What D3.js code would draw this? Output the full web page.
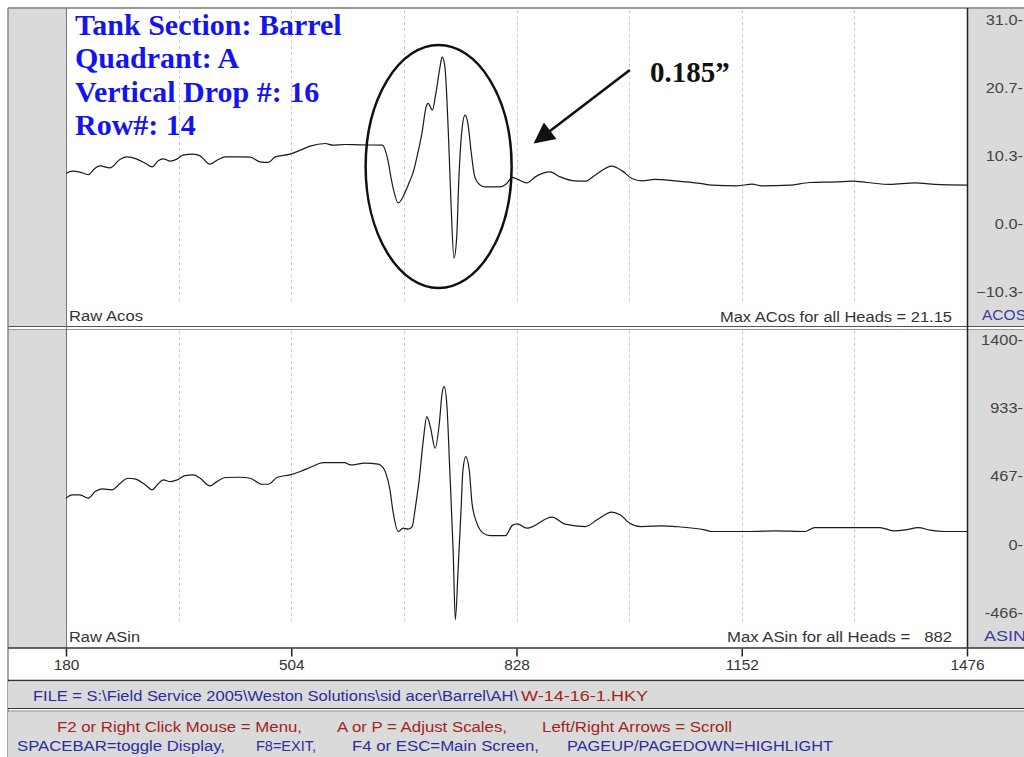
<!DOCTYPE html>
<html><head><meta charset="utf-8">
<script src="https://cdn.jsdelivr.net/npm/d3@7"></script>
<style>body{margin:0;background:#fff;} svg{display:block;}</style>
</head><body>
<svg id="c" width="1024" height="757"></svg>
<script>
// ---------- data ----------
const acosPos = [180,189,200,212,222,229,243,258,268,282,294,304,312,320,330,340,348,363,373,387,399,409,430,445,459,471,481,502,517,531,553,564,581,603,635,642,649,658,668,675,679,686,692,698,701,707,712,718,721,725,730,734,738,742,745,750,754,758,763,768,776,783,804,814,822,829,843,855,876,891,912,927,941,965,980,994,1009,1027,1056,1092,1109,1145,1167,1181,1221,1250,1289,1311,1332,1365,1401,1430,1476];
const acosVal = [7.7,8.05,7.9,7.52,8.5,8.85,8.55,9.87,10.22,9.87,9.26,8.7,9.57,9.91,9.57,9.91,10.48,10.63,10.37,9.11,9.82,10.22,10.22,10.17,9.46,9.37,10.22,10.63,11.24,11.84,12.25,12.0,12.1,12.04,12.0,10.22,6.23,3.23,4.9,6.68,7.74,10.78,13.82,17.81,18.33,17.31,19.85,23.88,25.4,23.88,13.82,2.63,-5.16,-1.93,6.68,14.77,16.55,15.34,10.78,7.18,5.92,5.66,5.66,6.18,7.09,6.83,6.27,7.18,7.94,7.18,6.57,6.53,7.44,8.81,8.09,6.94,6.57,6.79,6.57,6.18,5.92,5.82,6.07,5.82,5.92,6.33,6.42,6.53,6.33,6.03,6.27,6.03,5.92];
const asinPos = [180,189,200,212,222,232,246,258,269,279,294,304,312,320,330,340,351,363,373,387,397,409,430,445,462,471,484,502,517,534,550,567,581,589,610,629,632,640,646,650,658,665,672,678,682,688,694,699,704,711,717,721,724,728,732,737,740,744,748,751,755,760,764,771,780,790,812,822,829,843,879,898,927,944,965,977,991,1006,1037,1056,1099,1109,1164,1200,1243,1257,1315,1351,1370,1387,1406,1423,1444,1476];
const asinVal = [319,341,341,319,364,382,376,421,455,451,410,376,414,444,432,444,473,478,455,403,432,460,462,455,414,414,462,478,501,535,562,562,562,546,558,551,546,490,376,239,91,114,107,125,239,444,717,876,808,660,831,1036,1081,944,512,-57,-512,-171,216,512,603,512,285,148,80,63,63,133,143,114,189,141,125,171,223,205,148,125,130,125,102,91,91,96,91,118,118,118,96,102,118,100,91,91];
const xTicks = [180,504,828,1152,1476];
const gridTicks = [342,504,666,828,990,1152,1314];
const acosTicks = [31.0,20.7,10.3,0.0,-10.3];
const asinTicks = [1400,933,467,0,-466];
const infoLines = ["Tank Section: Barrel","Quadrant: A","Vertical Drop #: 16","Row#: 14"];
const calloutText = "0.185\u201D";
const highlight = {from: 611, to: 821, top: 27.2, bottom: -9.7};
const arrowFrom = {pos: 991, val: 23.4};
const arrowTo = {pos: 855, val: 12.45};
const acosMaxLabel = "Max ACos for all Heads = 21.15";
const asinMaxLabel = "Max ASin for all Heads =   882";
const fileBlue = "FILE = S:\\Field Service 2005\\Weston Solutions\\sid acer\\Barrel\\AH\\";
const fileRed = "W-14-16-1.HKY";

// ---------- layout ----------
const svg = d3.select("#c");
const L = 66, R = 967;
const topY0 = 8, topY1 = 327, botY0 = 329, botY1 = 648;
const GRAY = "#dadada";
const x = d3.scaleLinear().domain([180,1476]).range([L,R]);
const yA = d3.scaleLinear().domain([-10.3,31.0]).range([292,20]);
const yS = d3.scaleLinear().domain([-466,1400]).range([613,340]);
const SANS = "'Liberation Sans', Arial, sans-serif";
const SERIF = "'Liberation Serif', 'Times New Roman', serif";

svg.append("rect").attr("width",1024).attr("height",757).attr("fill","#fff");

// side strips
[[topY0,topY1],[botY0,botY1]].forEach(([a,b])=>{
  svg.append("rect").attr("x",8).attr("y",a).attr("width",L-8).attr("height",b-a).attr("fill",GRAY);
  svg.append("rect").attr("x",R).attr("y",a).attr("width",1024-R).attr("height",b-a).attr("fill",GRAY);
});

// grid
[[10,303],[331,625]].forEach(([a,b])=>{
  svg.append("g").selectAll("line").data(gridTicks).join("line")
    .attr("x1",d=>Math.round(x(d))+0.5).attr("x2",d=>Math.round(x(d))+0.5)
    .attr("y1",a).attr("y2",b)
    .attr("stroke","#cacaca").attr("stroke-width",1).attr("stroke-dasharray","3,3");
});

// frame lines
function hl(y,x1,x2,c,w){svg.append("line").attr("x1",x1).attr("x2",x2).attr("y1",y).attr("y2",y).attr("stroke",c).attr("stroke-width",w);}
function vl(xx,y1,y2,c,w){svg.append("line").attr("x1",xx).attr("x2",xx).attr("y1",y1).attr("y2",y2).attr("stroke",c).attr("stroke-width",w);}
hl(8,8,1024,"#9a9a9a",2);
hl(326.5,8,1024,"#555",1);
hl(329.5,8,1024,"#999",1);
vl(8,8,757,"#888",1.5);
vl(66.5,8,648,"#777",1);
vl(967.5,8,648,"#222",1.5);

// line traces
const lineA = d3.line().x(d=>x(d[0])).y(d=>yA(d[1])).curve(d3.curveMonotoneX);
const lineS = d3.line().x(d=>x(d[0])).y(d=>yS(d[1])).curve(d3.curveMonotoneX);
svg.append("path").attr("d",lineA(d3.zip(acosPos,acosVal))).attr("fill","none").attr("stroke","#1a1a1a").attr("stroke-width",1.2);
svg.append("path").attr("d",lineS(d3.zip(asinPos,asinVal))).attr("fill","none").attr("stroke","#1a1a1a").attr("stroke-width",1.2);

// right axes
function rightAxis(scale, ticks, fmt){
  const g = svg.append("g").attr("transform","translate(1023,0)")
    .call(d3.axisLeft(scale).tickValues(ticks).tickSize(0).tickPadding(0).tickFormat(fmt));
  g.select(".domain").remove();
  g.selectAll("text").attr("font-family",SANS).attr("font-size",14).attr("fill","#444")
    .each(function(){const w=this.getComputedTextLength(); d3.select(this).attr("textLength",w*1.17).attr("lengthAdjust","spacingAndGlyphs");});
}
rightAxis(yA, acosTicks, d=>d3.format(".1f")(d)+"-");
rightAxis(yS, asinTicks, d=>d+"-");

// x axis strip
hl(648,8,1024,"#333",1.5);
const gx = svg.append("g").attr("transform","translate(0,648.5)")
  .call(d3.axisBottom(x).tickValues(xTicks).tickSize(8).tickPadding(4).tickFormat(d3.format("d")));
gx.select(".domain").remove();
gx.selectAll(".tick line").attr("stroke","#222").attr("stroke-width",1.5);
gx.selectAll("text").attr("font-family",SANS).attr("font-size",14).attr("fill","#333")
  .each(function(){const w=this.getComputedTextLength(); d3.select(this).attr("textLength",w*1.1).attr("lengthAdjust","spacingAndGlyphs");});

// file bar & footer
hl(680.5,8,1024,"#333",1.5);
svg.append("rect").attr("x",8).attr("y",682).attr("width",1016).attr("height",26).attr("fill",GRAY);
hl(708.5,8,1024,"#333",1.2);
hl(711,8,1024,"#777",1);
svg.append("rect").attr("x",8).attr("y",712).attr("width",1016).attr("height",45).attr("fill",GRAY);

function txt(s,xx,y,opts){
  const t = svg.append("text").attr("x",xx).attr("y",y).text(s)
    .attr("font-family",opts.family||SANS).attr("font-size",opts.size||14)
    .attr("fill",opts.fill||"#333").style("white-space","pre");
  if(opts.weight) t.attr("font-weight",opts.weight);
  if(opts.anchor) t.attr("text-anchor",opts.anchor);
  if(opts.len) t.attr("textLength",opts.len).attr("lengthAdjust","spacingAndGlyphs");
  return t;
}
const BLUE = "#2c2c9c", RED = "#a02424";
txt(fileBlue,33,701,{fill:BLUE,len:485});
txt(fileRed,521,701,{fill:RED,len:127});
txt("F2 or Right Click Mouse = Menu,",57,732,{fill:RED,len:245});
txt("A or P = Adjust Scales,",337,732,{fill:RED,len:170});
txt("Left/Right Arrows = Scroll",542,732,{fill:RED,len:190});
txt("SPACEBAR=toggle Display,",17,751,{fill:BLUE,len:208});
txt("F8=EXIT,",256,751,{fill:BLUE,len:60});
txt("F4 or ESC=Main Screen,",352,751,{fill:BLUE,len:187});
txt("PAGEUP/PAGEDOWN=HIGHLIGHT",567,751,{fill:BLUE,len:266});

// panel labels
txt("Raw Acos",69,321,{len:74});
txt(acosMaxLabel,952,322,{anchor:"end",len:232});
txt("Raw ASin",69,642,{len:71});
txt(asinMaxLabel,952,642,{anchor:"end",len:225});
txt("ACOS",982,320,{fill:"#3a3aa8",len:44});
txt("ASIN",984,641,{fill:"#3a3aa8",len:42});

// info annotation
infoLines.forEach((s,i)=>{
  txt(s,75,35+i*33.3,{family:SERIF,size:30,weight:"bold",fill:"#1414f0"});
});

// highlight ellipse
svg.append("ellipse")
  .attr("cx",(x(highlight.from)+x(highlight.to))/2)
  .attr("cy",(yA(highlight.top)+yA(highlight.bottom))/2)
  .attr("rx",(x(highlight.to)-x(highlight.from))/2)
  .attr("ry",(yA(highlight.bottom)-yA(highlight.top))/2)
  .attr("fill","none").attr("stroke","#111").attr("stroke-width",2.5);

// arrow
svg.append("defs").append("marker").attr("id","ah").attr("viewBox","0 0 10 10")
  .attr("refX",9).attr("refY",5).attr("markerWidth",9).attr("markerHeight",8)
  .attr("markerUnits","strokeWidth").attr("orient","auto")
  .append("path").attr("d","M0,0 L10,5 L0,10 Z").attr("fill","#111");
svg.append("line")
  .attr("x1",x(arrowFrom.pos)).attr("y1",yA(arrowFrom.val))
  .attr("x2",x(arrowTo.pos)).attr("y2",yA(arrowTo.val))
  .attr("stroke","#111").attr("stroke-width",2.6).attr("marker-end","url(#ah)");
txt(calloutText,650,82,{family:SERIF,size:29,weight:"bold",fill:"#111"});
</script>
</body></html>
